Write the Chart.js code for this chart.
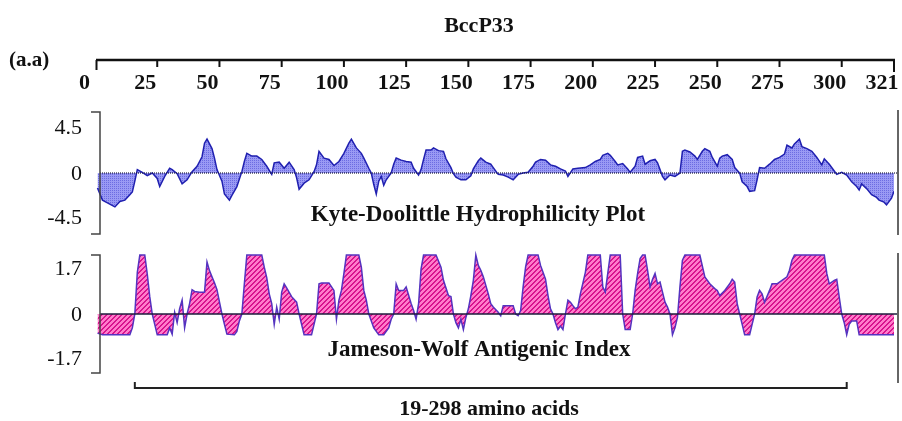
<!DOCTYPE html>
<html>
<head>
<meta charset="utf-8">
<script src="https://cdn.jsdelivr.net/npm/chart.js@4.4.1/dist/chart.umd.min.js"></script>
<style>
  html, body { margin: 0; padding: 0; background: #fff; }
  canvas { display: block; }
</style>
</head>
<body>
<canvas id="plot" width="902" height="421"></canvas>
<script>
// residue positions and values
const kdResidue = [1,3,5,8,10,12,14,15,16,17,19,21,23,25,26,28,30,31,33,35,37,39,41,43,44,45,47,48,49,51,52,54,55,57,59,60,61,63,65,67,69,71,72,74,76,78,80,81,82,84,86,88,89,90,92,94,96,98,100,102,103,105,107,108,110,111,112,113,114,115,116,117,119,120,121,123,125,127,128,130,131,132,133,135,136,138,140,141,143,144,145,147,149,151,152,154,155,157,159,160,162,164,166,168,170,172,174,176,177,179,181,183,185,187,189,190,192,194,197,199,201,203,204,206,207,209,210,212,214,215,217,218,220,221,223,225,226,227,228,229,231,233,235,236,237,239,241,242,244,245,247,248,250,251,252,254,256,257,259,260,262,263,265,266,267,269,271,273,275,277,278,280,281,283,284,286,288,290,292,293,295,297,298,300,302,304,306,307,308,310,312,314,315,317,318,320,321];
const kdValue = [-1.1,-2.0,-2.2,-2.5,-2.1,-2.0,-1.6,-1.4,-0.6,0.25,0.05,-0.2,0.0,-0.4,-1.0,-0.25,0.35,0.25,-0.05,-0.8,-0.5,0.1,0.5,1.2,2.2,2.5,1.8,1.1,0.25,-0.6,-1.55,-2.0,-1.65,-1.0,0.1,0.85,1.45,1.25,1.25,1.0,0.5,-0.1,0.75,0.8,0.35,0.8,0.25,-0.35,-1.2,-0.75,-0.5,0.1,0.6,1.6,1.1,1.0,0.55,0.85,1.45,2.2,2.5,1.85,1.45,1.1,0.35,0.0,-0.85,-1.55,-0.6,-0.25,-0.9,-0.5,0.0,0.65,1.1,0.95,0.85,0.8,0.35,-0.15,0.25,1.0,1.7,1.7,1.85,1.65,1.6,1.05,0.4,-0.05,-0.3,-0.5,-0.5,-0.2,0.3,0.9,1.1,0.8,0.65,0.4,-0.1,-0.15,-0.3,-0.5,-0.1,0.0,0.05,0.5,0.8,1.0,0.95,0.6,0.5,0.3,0.15,-0.25,0.3,0.35,0.4,0.6,0.85,1.0,1.3,1.45,1.3,0.85,0.6,0.7,0.3,0.05,0.5,1.15,1.25,0.65,0.9,1.0,0.75,0.25,-0.25,-0.5,-0.15,-0.25,0.0,1.6,1.7,1.55,1.25,1.0,1.6,1.8,1.6,1.15,0.5,1.1,1.25,1.35,1.0,0.4,0.0,-0.65,-1.0,-1.35,-1.3,-0.5,0.4,0.35,0.65,1.0,1.15,1.4,2.05,1.85,2.15,2.5,1.95,1.8,1.6,1.15,0.6,1.05,0.65,0.15,-0.1,0.05,-0.15,-0.65,-1.0,-1.25,-0.8,-1.15,-1.6,-1.8,-2.0,-2.15,-2.35,-1.85,-1.35];

const jwResidue = [1,3,14,15,16,17,18,20,21,22,23,24,25,29,30,31,32,33,34,35,36,37,38,39,40,42,44,45,46,47,48,49,50,51,52,53,56,57,58,59,60,61,67,68,69,70,71,72,73,74,75,76,77,79,81,82,83,84,87,88,89,90,91,94,96,97,98,99,100,101,106,107,108,109,110,112,114,116,118,119,120,121,122,124,125,127,128,129,130,131,132,137,139,140,142,143,144,145,146,147,148,149,150,151,152,153,154,155,156,158,159,160,162,163,164,168,169,170,171,172,173,174,178,179,181,182,183,184,185,186,187,188,189,190,191,192,193,194,195,197,198,203,204,205,206,207,211,212,213,215,216,217,218,219,220,221,222,223,224,225,226,227,228,229,230,231,232,233,234,235,236,237,243,245,247,249,250,251,253,255,256,257,258,259,260,261,263,264,265,266,267,268,269,271,272,274,276,278,279,280,281,293,294,295,297,298,299,300,301,302,303,304,306,307,321];
const jwValue = [-0.55,-0.6,-0.6,-0.4,0.0,1.2,1.7,1.7,1.15,0.5,0.0,-0.3,-0.6,-0.6,-0.4,-0.58,0.05,-0.25,0.15,0.4,-0.4,0.0,0.3,0.7,0.65,0.63,0.63,1.5,1.25,1.07,0.9,0.7,0.35,0.0,-0.3,-0.58,-0.6,-0.5,-0.2,0.0,0.87,1.7,1.7,1.35,1.05,0.58,0.3,-0.3,0.2,-0.15,0.63,0.87,0.75,0.5,0.34,0.0,-0.3,-0.6,-0.6,-0.3,0.0,0.87,0.89,0.89,0.68,-0.15,0.4,0.68,1.17,1.7,1.7,1.35,0.68,0.4,0.0,-0.4,-0.6,-0.6,-0.4,-0.15,0.0,0.87,0.68,0.68,0.78,0.3,0.1,-0.15,0.3,1.3,1.7,1.7,1.35,0.97,0.53,0.5,0.0,-0.25,-0.4,-0.15,-0.45,-0.1,0.15,0.53,0.97,1.7,1.4,1.26,1.07,0.58,0.3,0.2,0.05,-0.05,0.24,0.24,0.0,-0.05,0.1,0.78,1.36,1.7,1.7,1.4,1.0,0.53,0.15,0.0,-0.25,-0.45,-0.35,-0.45,0.0,0.4,0.34,0.24,0.15,0.2,0.58,1.2,1.7,1.7,0.78,0.63,1.17,1.7,1.7,0.0,-0.45,-0.45,0.0,0.68,1.17,1.6,1.7,1.7,1.26,0.78,1.0,1.17,0.87,0.92,0.63,0.34,0.2,0.0,-0.6,-0.4,-0.1,0.78,1.55,1.7,1.7,1.07,0.87,0.73,0.68,0.53,0.68,0.87,1.0,0.92,0.3,0.0,-0.3,-0.6,-0.6,-0.3,0.0,0.49,0.68,0.58,0.34,0.68,0.87,0.87,0.97,1.07,1.26,1.55,1.7,1.7,1.17,0.87,0.97,1.0,0.49,0.0,-0.25,-0.6,-0.3,-0.2,-0.2,-0.6,-0.6];

const xTicks = [0, 25, 50, 75, 100, 125, 150, 175, 200, 225, 250, 275, 300, 321];
const kdTicks = [4.5, 0, -4.5];
const jwTicks = [1.7, 0, -1.7];

const serif = '"Liberation Serif", "DejaVu Serif", serif';
const canvas = document.getElementById('plot');
const ctx = canvas.getContext('2d');

function dotPattern() {
  const c = document.createElement('canvas');
  c.width = 2; c.height = 2;
  const g = c.getContext('2d');
  g.fillStyle = '#9a9af4';
  g.fillRect(0, 0, 2, 2);
  g.fillStyle = '#6c6ce2';
  g.fillRect(0, 0, 1, 1);
  return ctx.createPattern(c, 'repeat');
}

function stripePattern() {
  const c = document.createElement('canvas');
  c.width = 5; c.height = 5;
  const g = c.getContext('2d');
  for (let px = 0; px < 5; px++) {
    for (let py = 0; py < 5; py++) {
      g.fillStyle = (px + py) % 5 < 2 ? '#d8148e' : '#ff7ccb';
      g.fillRect(px, py, 1, 1);
    }
  }
  return ctx.createPattern(c, 'repeat');
}

const toPoints = (xs, ys) => xs.map((r, i) => ({ x: r, y: ys[i] }));

const decor = {
  id: 'decor',
  afterDatasetsDraw(chart) {
    const { ctx, scales: { x, yKD, yJW } } = chart;
    const left = x.getPixelForValue(0) + 5;
    const right = x.getPixelForValue(321) + 4;
    ctx.save();
    // zero lines
    ctx.strokeStyle = '#1c1c3c';
    ctx.lineWidth = 1.2;
    ctx.setLineDash([1, 1]);
    ctx.beginPath();
    ctx.moveTo(left, yKD.getPixelForValue(0));
    ctx.lineTo(right, yKD.getPixelForValue(0));
    ctx.stroke();
    ctx.setLineDash([]);
    ctx.lineWidth = 1.5;
    ctx.beginPath();
    ctx.moveTo(left, yJW.getPixelForValue(0));
    ctx.lineTo(right, yJW.getPixelForValue(0));
    ctx.stroke();
    ctx.restore();
  },
  afterDraw(chart) {
    const { ctx, scales: { x, yKD, yJW } } = chart;
    const left = x.getPixelForValue(0) + 5;
    const right = x.getPixelForValue(321) + 4;
    ctx.save();
    ctx.fillStyle = '#111';

    // title and unit
    ctx.font = 'bold 22px ' + serif;
    ctx.textAlign = 'center';
    ctx.textBaseline = 'middle';
    ctx.fillText('BccP33', 479, 26);
    ctx.textAlign = 'left';
    ctx.font = 'bold 21px ' + serif;
    ctx.fillText('(a.a)', 9, 61);

    // top residue axis
    const axisY = 60;
    ctx.strokeStyle = '#111';
    ctx.lineWidth = 2.5;
    ctx.beginPath();
    ctx.moveTo(x.getPixelForValue(0) + 1, axisY);
    ctx.lineTo(x.getPixelForValue(321) + 1, axisY);
    ctx.stroke();
    ctx.lineWidth = 2;
    ctx.font = 'bold 22px ' + serif;
    ctx.textAlign = 'center';
    xTicks.forEach((t, i) => {
      const px = x.getPixelForValue(t) + (i === 0 ? 1.5 : 0);
      const len = i === 0 ? 10 : (i === xTicks.length - 1 ? 12 : 7);
      ctx.beginPath();
      ctx.moveTo(px, axisY);
      ctx.lineTo(px, axisY + len);
      ctx.stroke();
      ctx.fillText(String(t), px - 12, 83);
    });

    // panel frames
    const panels = [
      { scale: yKD, ticks: kdTicks, inset: 16 },
      { scale: yJW, ticks: jwTicks, inset: 14 }
    ];
    ctx.font = '22px ' + serif;
    ctx.textAlign = 'right';
    panels.forEach(p => {
      const top = p.scale.getPixelForValue(p.ticks[0]);
      const bottom = p.scale.getPixelForValue(p.ticks[2]);
      ctx.strokeStyle = '#444';
      ctx.lineWidth = 1.5;
      ctx.beginPath();
      ctx.moveTo(left - 9, top);
      ctx.lineTo(left, top);
      ctx.lineTo(left, bottom);
      ctx.lineTo(left - 9, bottom);
      ctx.stroke();
      ctx.strokeStyle = '#666';
      ctx.lineWidth = 2;
      ctx.beginPath();
      ctx.moveTo(right, top - 2);
      ctx.lineTo(right, bottom + (p.scale === yJW ? 10 : 1));
      ctx.stroke();
      ctx.fillText(String(p.ticks[0]), 82, top + p.inset);
      ctx.fillText(String(p.ticks[1]), 82, p.scale.getPixelForValue(0) + 1);
      ctx.fillText(String(p.ticks[2]), 82, bottom - p.inset);
    });

    // panel captions
    ctx.font = 'bold 23px ' + serif;
    ctx.textAlign = 'center';
    ctx.fillText('Kyte-Doolittle Hydrophilicity Plot', 478, 215);
    ctx.fillText('Jameson-Wolf Antigenic Index', 479, 350);

    // region bracket
    const bFrom = x.getPixelForValue(16);
    const bTo = x.getPixelForValue(302);
    ctx.strokeStyle = '#222';
    ctx.lineWidth = 2;
    ctx.beginPath();
    ctx.moveTo(bFrom, 382);
    ctx.lineTo(bFrom, 388);
    ctx.lineTo(bTo, 388);
    ctx.lineTo(bTo, 382);
    ctx.stroke();
    ctx.font = 'bold 22px ' + serif;
    ctx.fillText('19-298 amino acids', 489, 409);
    ctx.restore();
  }
};

new Chart(ctx, {
  type: 'line',
  data: {
    datasets: [
      {
        label: 'Kyte-Doolittle',
        data: toPoints(kdResidue, kdValue),
        yAxisID: 'yKD',
        borderColor: '#2020b0',
        borderWidth: 1.5,
        backgroundColor: dotPattern(),
        fill: 'origin',
        tension: 0,
        pointRadius: 0
      },
      {
        label: 'Jameson-Wolf',
        data: toPoints(jwResidue, jwValue),
        yAxisID: 'yJW',
        borderColor: '#5433c0',
        borderWidth: 1.5,
        backgroundColor: stripePattern(),
        fill: 'origin',
        tension: 0,
        pointRadius: 0
      }
    ]
  },
  options: {
    responsive: false,
    animation: false,
    devicePixelRatio: 1,
    layout: { padding: { left: 95, right: 8, top: 112, bottom: 48 } },
    scales: {
      x: { type: 'linear', min: 0, max: 321, display: false },
      yKD: { type: 'linear', min: -14.75, max: 4.5, display: false },
      yJW: { type: 'linear', min: -1.7, max: 5.82, display: false }
    },
    plugins: {
      legend: { display: false },
      tooltip: { enabled: false }
    }
  },
  plugins: [decor]
});
</script>
</body>
</html>
